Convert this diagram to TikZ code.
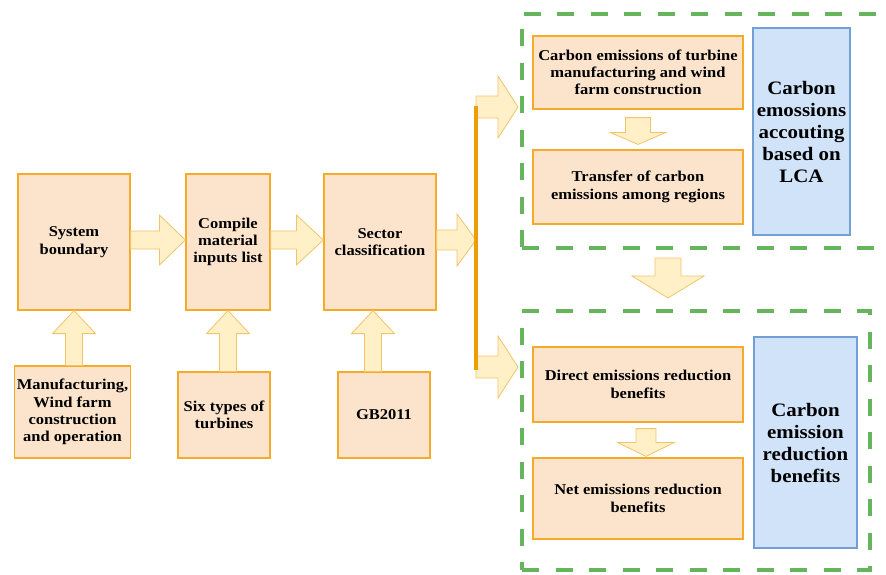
\documentclass[tikz,border=0pt]{standalone}
\usepackage{fontspec}
\setmainfont{Liberation Serif}[FakeStretch=1.1]
\usetikzlibrary{calc}
\definecolor{boxFill}{RGB}{252,228,204}
\definecolor{boxLine}{RGB}{245,170,40}
\definecolor{arrowFill}{RGB}{255,240,200}
\definecolor{arrowLine}{RGB}{242,196,105}
\definecolor{busLine}{RGB}{238,158,0}
\definecolor{blueFill}{RGB}{208,227,248}
\definecolor{blueLine}{RGB}{112,160,214}
\definecolor{frameGreen}{RGB}{102,180,92}
\tikzset{
    % basic block
    baseBlock/.style={
        rectangle, line width=1.2pt, align=center, inner sep=2pt,
        font=\fontsize{15}{17.3}\selectfont\bfseries
    },
    %
    stage/.style={baseBlock, draw=boxLine, fill=boxFill},
    sideBlock/.style={baseBlock, draw=blueLine, fill=blueFill,
        font=\fontsize{19}{22}\selectfont\bfseries},
    frame/.style={draw=frameGreen, line width=4pt, dash pattern=on 17pt off 16.5pt},
    %
    % fat arrow: shaft half width, head half width, head length (pt)
    fat/.style n args={3}{
        draw=arrowLine, fill=arrowFill, line width=0.8pt,
        to path={
            let \p1=(\tikztostart), \p2=(\tikztotarget),
                \n1={atan2(\y2-\y1,\x2-\x1)} in
            ($(\p1)+(\n1+90:#1pt)$)
            -- ($(\p2)+(\n1+180:#3pt)+(\n1+90:#1pt)$)
            -- ($(\p2)+(\n1+180:#3pt)+(\n1+90:#2pt)$)
            -- (\p2)
            -- ($(\p2)+(\n1+180:#3pt)+(\n1-90:#2pt)$)
            -- ($(\p2)+(\n1+180:#3pt)+(\n1-90:#1pt)$)
            -- ($(\p1)+(\n1-90:#1pt)$) -- cycle
        }
    }
}

\begin{document}
\begin{tikzpicture}[x=1pt, y=-1pt]
    \useasboundingbox (0,0) rectangle (886,574);

    %% frames
    \node (accFrame) [frame, minimum width=378pt, minimum height=234pt] at (711,131) {};
    \node (benFrame) [frame, minimum width=348pt, minimum height=259pt] at (696,440.5) {};

    %% left chain
    \node (sb) [stage, minimum width=112pt, minimum height=136pt] at (74,242) {System\\boundary};
    \node (cm) [stage, minimum width=84pt, minimum height=136pt] at (228,242) {Compile\\material\\inputs list};
    \node (sc) [stage, minimum width=112pt, minimum height=136pt] at (380,242) {Sector\\classification};
    \node (mf) [stage, minimum width=115pt, minimum height=92pt] at (72.5,412) {Manufacturing,\\Wind farm\\construction\\and operation};
    \node (st) [stage, minimum width=92pt, minimum height=86pt] at (224,415) {Six types of\\turbines};
    \node (gb) [stage, minimum width=92pt, minimum height=86pt] at (384,415) {GB2011};

    %% accounting part
    \node (c1) [stage, minimum width=210pt, minimum height=73pt] at (638,72.5) {Carbon emissions of turbine\\manufacturing and wind\\farm construction};
    \node (c2) [stage, minimum width=210pt, minimum height=74pt] at (638,187) {Transfer of carbon\\emissions among regions};
    \node (lca) [sideBlock, minimum width=97pt, minimum height=207pt] at (801.5,131.5) {Carbon\\emossions\\accouting\\based on\\LCA};

    %% benefit part
    \node (d1) [stage, minimum width=210pt, minimum height=75pt] at (638,384.5) {Direct emissions reduction\\benefits};
    \node (d2) [stage, minimum width=210pt, minimum height=81pt] at (638,498.5) {Net emissions reduction\\benefits};
    \node (ben) [sideBlock, minimum width=103pt, minimum height=211pt] at (805.5,442.5) {Carbon\\emission\\reduction\\benefits};

    %% split line
    \coordinate (j1) at (476,107);
    \coordinate (j2) at (476,367);

    %% arrows
    \draw[fat={9}{25}{26}] (sb.east |- 0,240) to (cm.west |- 0,240);
    \draw[fat={9}{25}{27}] (cm.east |- 0,240) to (sc.west |- 0,240);
    \draw[fat={10}{26}{19}] (sc.east |- 0,240) to (j1 |- 0,240);
    \draw[fat={8.5}{21.5}{23}] (sb.south |- mf.north) to (sb.south);
    \draw[fat={8.5}{21.5}{23}] (cm.south |- st.north) to (cm.south);
    \draw[fat={8.5}{21.5}{23}] ([xshift=-7pt]sc.south |- gb.north) to ([xshift=-7pt]sc.south);
    \draw[fat={11}{31}{20}] (j1) to ([xshift=-2pt]j1 -| accFrame.west);
    \draw[fat={11}{31}{20}] (j2) to ([xshift=-2pt]j2 -| benFrame.west);
    \draw[fat={12.5}{28}{12}] ([yshift=-8pt]c1.south) to ([yshift=5pt]c2.north);
    \draw[fat={10}{28.5}{14}] ([xshift=8pt,yshift=-6pt]d1.south) to ([xshift=8pt,yshift=1pt]d2.north);
    \draw[fat={13}{36}{22}] ([xshift=-43pt,yshift=-8pt]accFrame.south) to ([xshift=-28pt,yshift=11pt]benFrame.north);

    \draw[busLine, line width=3.2pt] ([yshift=1pt]j1) -- ([yshift=-3pt]j2);

\end{tikzpicture}
\end{document}
